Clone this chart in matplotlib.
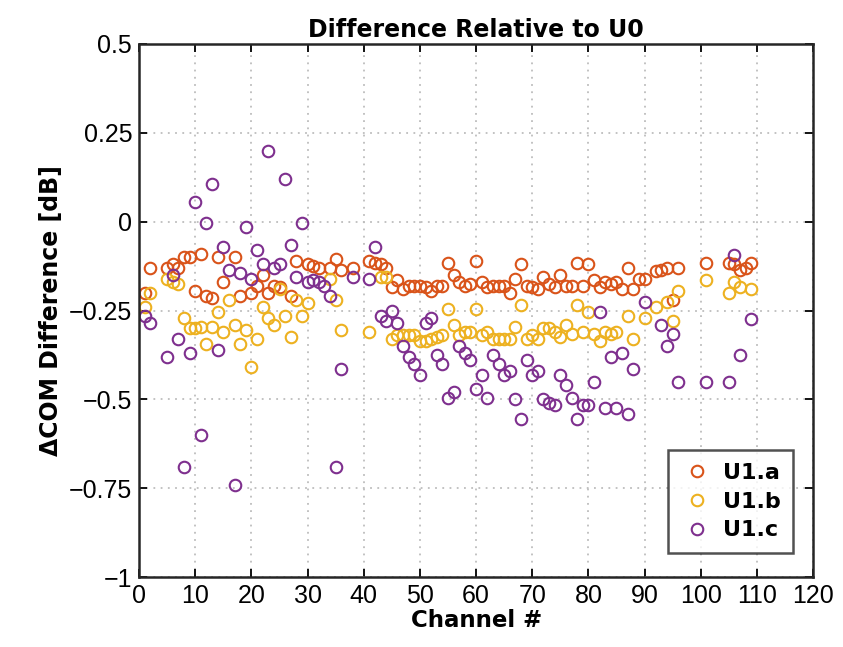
import matplotlib
matplotlib.use("Agg")
import matplotlib.pyplot as plt
from matplotlib.ticker import FixedLocator

# ---- data ----
ch_a = [1, 2, 5, 6, 7, 8, 9, 10, 11, 12, 13, 14, 15, 17, 18, 20, 21, 22, 23, 24, 25, 27, 28,
        30, 31, 32, 34, 35, 36, 38, 41, 42, 43, 44, 45, 46, 47, 48, 49, 50, 51, 52, 53, 54, 55,
        56, 57, 58, 59, 60, 61, 62, 63, 64, 65, 66, 67, 68, 69, 70, 71, 72, 73, 74, 75, 76, 77,
        78, 79, 80, 81, 82, 83, 84, 85, 86, 87, 88, 89, 90, 92, 93, 94, 95, 96, 101, 105, 106,
        107, 108, 109]
val_a = [-0.20, -0.13, -0.13, -0.12, -0.13, -0.10, -0.10, -0.195, -0.09, -0.21, -0.215, -0.10,
         -0.17, -0.10, -0.21, -0.20, -0.18, -0.15, -0.20, -0.18, -0.185, -0.21, -0.11,
         -0.12, -0.125, -0.13, -0.13, -0.105, -0.135, -0.13, -0.11, -0.115, -0.12, -0.13, -0.185,
         -0.165, -0.19, -0.18, -0.18, -0.18, -0.185, -0.195, -0.18, -0.18, -0.115,
         -0.15, -0.17, -0.18, -0.175, -0.11, -0.17, -0.185, -0.18, -0.18, -0.18, -0.20, -0.16,
         -0.12, -0.18, -0.185, -0.19, -0.155, -0.175, -0.185, -0.15, -0.18, -0.18,
         -0.115, -0.18, -0.12, -0.165, -0.185, -0.17, -0.175, -0.17, -0.19, -0.13, -0.19, -0.16,
         -0.16, -0.14, -0.135, -0.13, -0.22, -0.13, -0.115, -0.115, -0.12,
         -0.135, -0.13, -0.115]

ch_b = [1, 2, 5, 6, 7, 8, 9, 10, 11, 12, 13, 14, 15, 16, 17, 18, 19, 20, 21, 22, 23, 24, 25, 26,
        27, 28, 29, 30, 34, 35, 36, 41, 43, 44, 45, 46, 47, 48, 49, 50, 51, 52, 53, 54, 55, 56,
        57, 58, 59, 60, 61, 62, 63, 64, 65, 66, 67, 68, 69, 70, 71, 72, 73, 74, 75, 76, 77, 78,
        79, 80, 81, 82, 83, 84, 85, 87, 88, 90, 92, 94, 95, 96, 101, 105, 106, 107, 109]
val_b = [-0.24, -0.20, -0.16, -0.17, -0.175, -0.27, -0.30, -0.30, -0.295, -0.345, -0.295, -0.255,
         -0.31, -0.22, -0.29, -0.345, -0.305, -0.41, -0.33, -0.24, -0.27, -0.29, -0.19, -0.265,
         -0.325, -0.22, -0.265, -0.23, -0.16, -0.22, -0.305, -0.31, -0.155, -0.155, -0.33, -0.32,
         -0.32, -0.32, -0.32, -0.335, -0.335, -0.33, -0.325, -0.32, -0.245, -0.29,
         -0.32, -0.31, -0.31, -0.245, -0.32, -0.31, -0.33, -0.33, -0.33, -0.33, -0.295, -0.235,
         -0.33, -0.32, -0.33, -0.30, -0.30, -0.31, -0.325, -0.29, -0.315, -0.235,
         -0.31, -0.255, -0.315, -0.335, -0.31, -0.315, -0.31, -0.265, -0.33, -0.27, -0.24, -0.225,
         -0.28, -0.195, -0.165, -0.20, -0.17, -0.185, -0.19]

ch_c = [1, 2, 5, 6, 7, 8, 9, 10, 11, 12, 13, 14, 15, 16, 17, 18, 19, 20, 21, 22, 23, 24, 25, 26,
        27, 28, 29, 30, 31, 32, 33, 34, 35, 36, 38, 41, 42, 43, 44, 45, 46, 47, 48, 49, 50, 51,
        52, 53, 54, 55, 56, 57, 58, 59, 60, 61, 62, 63, 64, 65, 66, 67, 68, 69, 70, 71, 72, 73,
        74, 75, 76, 77, 78, 79, 80, 81, 82, 83, 84, 85, 86, 87, 88, 90, 93, 94, 95, 96, 101, 105,
        106, 107, 109]
val_c = [-0.265, -0.285, -0.38, -0.15, -0.33, -0.69, -0.37, 0.055, -0.60, -0.005, 0.105, -0.36,
         -0.07, -0.135, -0.74, -0.145, -0.015, -0.16, -0.08, -0.12, 0.20, -0.13, -0.12, 0.12,
         -0.065, -0.155, -0.005, -0.17, -0.165, -0.17, -0.18, -0.21, -0.69, -0.415, -0.155, -0.16,
         -0.07, -0.265, -0.28, -0.25, -0.285, -0.35, -0.38, -0.40, -0.43, -0.285,
         -0.27, -0.375, -0.40, -0.495, -0.48, -0.35, -0.37, -0.39, -0.47, -0.43, -0.495, -0.375,
         -0.40, -0.43, -0.42, -0.50, -0.555, -0.39, -0.43, -0.42, -0.50, -0.51,
         -0.515, -0.43, -0.46, -0.495, -0.555, -0.515, -0.515, -0.45, -0.255, -0.525, -0.38, -0.525,
         -0.37, -0.54, -0.415, -0.225, -0.29, -0.35, -0.315, -0.45, -0.45, -0.45,
         -0.095, -0.375, -0.275]

series_names = ["U1.a", "U1.b", "U1.c"]
series_colors = ["#D95319", "#EDB120", "#7E2F8E"]
x_ticks = [0, 10, 20, 30, 40, 50, 60, 70, 80, 90, 100, 110, 120]
y_ticks = [-1, -0.75, -0.5, -0.25, 0, 0.25, 0.5]
y_tick_labels = ["\u22121", "\u22120.75", "\u22120.5", "\u22120.25", "0", "0.25", "0.5"]

# ---- plot ----
plt.rcParams['font.family'] = ['Liberation Sans Narrow', 'Liberation Sans', 'DejaVu Sans']
fig = plt.figure(figsize=(8.43, 6.47), dpi=100)
ax = fig.add_axes([0.165, 0.108, 0.7995, 0.824])

for xs, ys, name, col in zip([ch_a, ch_b, ch_c], [val_a, val_b, val_c], series_names, series_colors):
    ax.plot(xs, ys, linestyle='none', marker='o', markersize=8.3, markerfacecolor='none',
            markeredgecolor=col, markeredgewidth=1.5, label=name)

ax.set_xlim(0, 120)
ax.set_ylim(-1, 0.5)
ax.xaxis.set_major_locator(FixedLocator(x_ticks))
ax.set_yticks(y_ticks)
ax.set_yticklabels(y_tick_labels)
ax.tick_params(direction='in', top=True, right=True, length=6, width=1.3,
               labelsize=18, pad=5)
for s in ax.spines.values():
    s.set_linewidth(1.8)
    s.set_color('#262626')
ax.grid(True, linestyle=(0, (1, 3)), color='#bdbdbd', linewidth=1.3)
ax.set_axisbelow(True)

lbl_font = ['DejaVu Sans']
ax.set_xlabel("Channel #", fontsize=16.5, fontweight='bold', family=lbl_font, labelpad=1)
ax.set_ylabel("\u0394COM Difference [dB]", fontsize=17, fontweight='bold', family=lbl_font, labelpad=4)
ax.set_title("Difference Relative to U0", fontsize=17, fontweight='bold', family=lbl_font, pad=5)

leg = ax.legend(loc='lower right', bbox_to_anchor=(0.986, 0.025), frameon=True, fancybox=False,
                edgecolor='#262626', handletextpad=0.4, borderpad=0.55, labelspacing=0.4,
                handlelength=1.5,
                prop={'family': lbl_font, 'weight': 'bold', 'size': 16})
leg.get_frame().set_linewidth(1.8)

fig.savefig("out.png", dpi=100)
